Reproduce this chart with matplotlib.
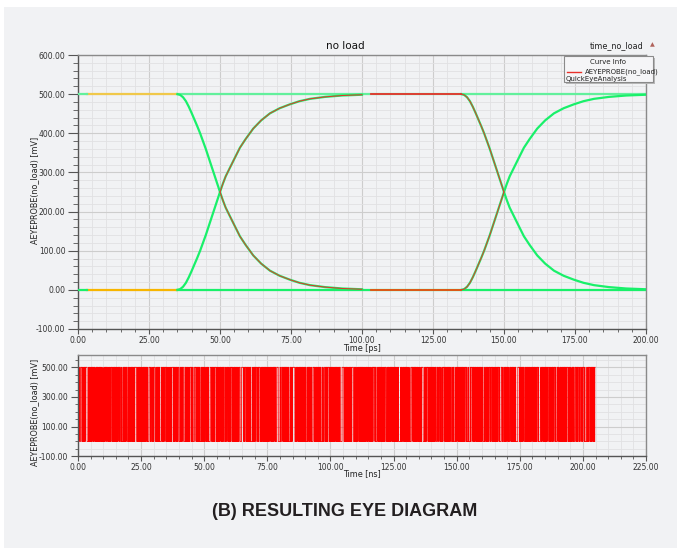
import matplotlib.pyplot as plt
from matplotlib.patches import Rectangle
from matplotlib.ticker import MultipleLocator, FormatStrFormatter

# ---- eye diagram data (times in ps, voltages in mV) ----
edge_start = [35.0, 135.0]
edge_t = [0, 1, 2, 3, 4, 5, 6, 7, 8, 9, 10, 11, 12, 13, 14, 15, 16, 17, 18.5,
          20, 22, 24, 26.7, 29.5, 32.6, 36, 39.6, 43, 46.7, 52, 58, 65]
fall_mv = [500, 498, 492, 482, 468, 452, 435, 418, 400, 380, 360, 338, 316, 294,
           272, 250, 229, 210, 188, 166, 137, 115, 88, 67, 49, 36, 26, 18, 12, 7, 3.5, 1.5]
rise_mv = [0, 2, 8, 18, 32, 48, 65, 82, 100, 120, 140, 162, 184, 206,
           228, 250, 271, 290, 312, 334, 363, 385, 412, 433, 451, 464, 474, 482, 488, 493, 496.5, 498.5]
high_mv = 500
low_mv = 0
cross_idx = 15  # index of the 250 mV crossing in edge_t

# ---- bit stream shown in the lower panel (UI = 0.1 ns) ----
bit_hex = (
    "9c3e51a7f0264bd8e17a35c9026fb84d1e93a6c5f7082b4de1963ac57f0b28d4"
    "5ab3907ce12f84d6b0395e7ac2148fd63b9e0a57c1d4628fb307e95ac14d2b86"
    "e40f9b27c58a3d16f0c7942be85d1a63c0fe2795b4d81a6e3c5f0972ab48d1e6"
    "2d7a1f80c3e96b54a0d27fe13c8b5964d20af7183ec5b96d41a0f2e7c9358b1d"
    "b16e03f8a5c92d47e1b08f36d5a4c72e190bf7d83a6e52c4f09d1b7a36e85c02"
    "71c9ae4820fd3b65c8a17e094fd26b3a85e1c7904bf2d36a8e15c09f74b2da63"
    "c8205f3ea71b96d4e0c3a58f27d1946bec0f385a7d21e9b46c03fa8d5e172b94"
    "4fa6d13c80e7b25a9f14c6e3d07b85a2e6c9f1340bd87a5e23c6f9018be4d7a5"
)
ui_ns = 0.1
rise_ns = 0.03

bg = "#f1f2f4"
green = "#19f06a"
green_hi = "#62f09c"
red = "#e8302a"

W, H = 677, 548
fig = plt.figure(figsize=(W / 100, H / 100), dpi=100, facecolor="white")
fig.patches.append(Rectangle((4 / W, 0), 1, 1 - 7 / H, transform=fig.transFigure,
                             facecolor=bg, edgecolor="none", zorder=-10))


def style_axes(ax):
    ax.set_facecolor(bg)
    ax.grid(which="major", color="#cdcdcd", lw=0.8)
    ax.grid(which="minor", color="#e1e1e3", lw=0.6)
    ax.set_axisbelow(True)
    for s in ["left", "bottom"]:
        ax.spines[s].set_color("#555555")
        ax.spines[s].set_linewidth(1.0)
    for s in ["top", "right"]:
        ax.spines[s].set_color("#8a8a8a")
        ax.spines[s].set_linewidth(1.0)
    ax.tick_params(which="major", direction="out", length=3.5, width=0.8,
                   colors="#555555", labelsize=5.5, labelcolor="#333333", pad=1.5)
    ax.tick_params(which="minor", direction="out", length=2.5, width=0.6, colors="#555555")
    ax.xaxis.set_major_formatter(FormatStrFormatter("%.2f"))
    ax.yaxis.set_major_formatter(FormatStrFormatter("%.2f"))


# =================== top: eye diagram ===================
ax = fig.add_axes([78 / W, 1 - 329 / H, (646 - 78) / W, (329 - 55) / H])
style_axes(ax)
ax.set_xlim(0, 200)
ax.set_ylim(-100, 600)
ax.xaxis.set_major_locator(MultipleLocator(25))
ax.xaxis.set_minor_locator(MultipleLocator(5))
ax.yaxis.set_major_locator(MultipleLocator(100))
ax.yaxis.set_minor_locator(MultipleLocator(20))
ax.tick_params(axis="y", which="major", length=7, pad=2)
ax.tick_params(axis="y", which="minor", length=3.5)

# flat levels
ax.plot([3, edge_start[0]], [high_mv, high_mv], color="#f0c84a", lw=1.6, zorder=3)
ax.plot([3, edge_start[0]], [low_mv, low_mv], color="#f7b500", lw=1.6, zorder=3)
ax.plot([0, 3], [high_mv, high_mv], color=green_hi, lw=1.6, zorder=3)
ax.plot([0, 3], [low_mv, low_mv], color=green, lw=1.6, zorder=3)
ax.plot([edge_start[0], 200], [high_mv, high_mv], color=green_hi, lw=1.6, zorder=2)
ax.plot([edge_start[0], 200], [low_mv, low_mv], color=green, lw=1.6, zorder=2)

# edges (green)
for t0 in edge_start:
    tt = [t0 + t for t in edge_t]
    ax.plot(tt, fall_mv, color=green, lw=1.6, zorder=3)
    ax.plot(tt, rise_mv, color=green, lw=1.6, zorder=3)

# red trace (QuickEyeAnalysis)
t1 = [edge_start[0] + t for t in edge_t[cross_idx:]]
ax.plot(t1, rise_mv[cross_idx:], color=red, lw=0.7, zorder=4)
ax.plot(t1, fall_mv[cross_idx:], color=red, lw=0.7, zorder=4)
ax.plot([edge_start[0] + edge_t[-1] + 3, edge_start[1]], [high_mv, high_mv], color=red, lw=1.3, zorder=4)
ax.plot([edge_start[0] + edge_t[-1] + 3, edge_start[1]], [low_mv, low_mv], color="#f04a10", lw=1.3, zorder=4)
t2 = [edge_start[1] + t for t in edge_t[:cross_idx + 1]]
ax.plot(t2, fall_mv[:cross_idx + 1], color=red, lw=0.7, zorder=4)
ax.plot(t2, rise_mv[:cross_idx + 1], color=red, lw=0.7, zorder=4)

fig.text(345 / W, 1 - 46 / H, "no load", ha="center", va="center", fontsize=7.5, color="#111111")
fig.text(617 / W, 1 - 46 / H, "time_no_load", ha="center", va="center", fontsize=5.8, color="#222222")
fig.text(652 / W, 1 - 45 / H, "\u25b2", ha="center", va="center", fontsize=4.5, color="#b0625a")
fig.text(362 / W, 1 - 348.5 / H, "Time [ps]", ha="center", va="center", fontsize=5.8, color="#222222")
fig.text(35 / W, 1 - 190 / H, "AEYEPROBE(no_load) [mV]", ha="center", va="center",
         rotation=90, fontsize=5.8, color="#222222")

# curve info box
bx0, bx1, by0, by1 = 564, 653, 56, 82
fig.patches.append(Rectangle(((bx0 + 2) / W, 1 - (by1 + 2) / H), (bx1 - bx0) / W, (by1 - by0) / H,
                             transform=fig.transFigure, facecolor="#b8b8b8", edgecolor="none", zorder=5))
fig.patches.append(Rectangle((bx0 / W, 1 - by1 / H), (bx1 - bx0) / W, (by1 - by0) / H,
                             transform=fig.transFigure, facecolor="#f5f5f7", edgecolor="#8a8a8a",
                             lw=0.8, zorder=6))
fig.text(608 / W, 1 - 61.5 / H, "Curve Info", ha="center", va="center", fontsize=5, color="#222222", zorder=7)
fig.add_artist(plt.Line2D([567 / W, 581 / W], [1 - 71.5 / H, 1 - 71.5 / H], color=red, lw=1.0,
                          transform=fig.transFigure, zorder=7))
fig.text(585 / W, 1 - 71.5 / H, "AEYEPROBE(no_load)", ha="left", va="center", fontsize=5, color="#222222", zorder=7)
fig.text(566 / W, 1 - 78.5 / H, "QuickEyeAnalysis", ha="left", va="center", fontsize=5, color="#222222", zorder=7)

# =================== bottom: transient waveform ===================
bits = []
for ch in bit_hex:
    v = int(ch, 16)
    bits.extend([(v >> s) & 1 for s in (3, 2, 1, 0)])
wt, wv = [0.0], [bits[0] * high_mv]
for k in range(1, len(bits)):
    if bits[k] != bits[k - 1]:
        wt += [k * ui_ns, k * ui_ns + rise_ns]
        wv += [bits[k - 1] * high_mv, bits[k] * high_mv]
wt.append(len(bits) * ui_ns)
wv.append(bits[-1] * high_mv)

ax2 = fig.add_axes([78 / W, 1 - 456.3 / H, (646 - 78) / W, (456.3 - 355) / H])
style_axes(ax2)
ax2.set_xlim(0, 225)
ax2.set_ylim(-100, 583)
ax2.xaxis.set_major_locator(MultipleLocator(25))
ax2.xaxis.set_minor_locator(MultipleLocator(5))
ax2.yaxis.set_minor_locator(MultipleLocator(50))
ax2.set_yticks([-100, 100, 300, 500])
ax2.tick_params(axis="y", which="major", length=5, pad=2)
ax2.plot(wt, wv, color="#ff0000", lw=0.6)

fig.text(362 / W, 1 - 474 / H, "Time [ns]", ha="center", va="center", fontsize=5.8, color="#222222")
fig.text(35 / W, 1 - 412 / H, "AEYEPROBE(no_load) [mV]", ha="center", va="center",
         rotation=90, fontsize=5.8, color="#222222")

fig.text(345 / W, 1 - 511 / H, "(B) RESULTING EYE DIAGRAM", ha="center", va="center",
         fontsize=13, fontweight="bold", family="Liberation Sans", color="#231f20")

fig.savefig("out.png", dpi=100, facecolor=fig.get_facecolor())
